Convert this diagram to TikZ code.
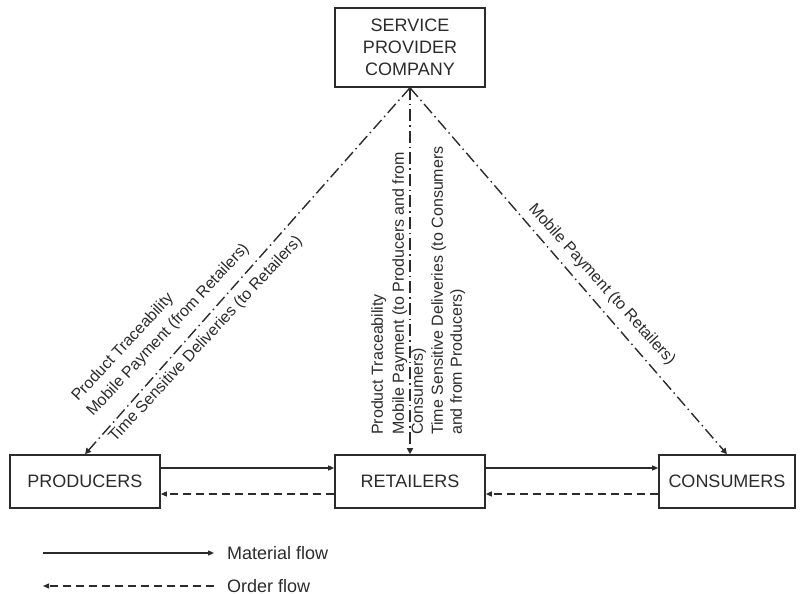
\documentclass[tikz,border=0pt]{standalone}
\usepackage{fontspec}
\setmainfont{Liberation Sans}
\usetikzlibrary{arrows.meta,positioning}

\definecolor{ink}{HTML}{2B2B2B}

\begin{document}
\begin{tikzpicture}[x=1pt, y=-1pt, ink,
  party/.style={draw=ink, line width=1.6pt, font=\fontsize{18}{22}\selectfont,
    align=center, minimum height=53pt, inner sep=0pt},
  lbl/.style={font=\fontsize{16}{19}\selectfont, inner sep=0pt, align=left},
  legtext/.style={font=\fontsize{18}{22}\selectfont, inner ysep=0pt, inner xsep=13pt, anchor=west},
  info/.style={draw=ink, line width=1.4pt, dash pattern=on 12pt off 4pt on 1.5pt off 4pt,
    -{Triangle[length=6pt,width=6pt]}},
  material/.style={draw=ink, line width=1.3pt, -{Triangle[length=6pt,width=5pt]}},
  order/.style={draw=ink, line width=1.3pt, dash pattern=on 8pt off 5pt,
    -{Triangle[length=6pt,width=5pt]}}]
  \useasboundingbox (0,0) rectangle (804,594);

  \node[party, minimum width=150pt, minimum height=79pt] (spc) at (410,47.5) {SERVICE\\PROVIDER\\COMPANY};
  \node[party, minimum width=150pt] (prod) at (85,481.5)  {PRODUCERS};
  \node[party, minimum width=150pt] (ret)  at (410,481.5) {RETAILERS};
  \node[party, minimum width=136pt] (cons) at (727,481.5) {CONSUMERS};

  % information flows from the service provider
  \draw[info] (spc.south) -- (prod.north);
  \draw[info] (spc.south) -- (ret.north);
  \draw[info] (spc.south) -- (cons.north);

  \node[lbl, rotate=47, anchor=base west] (lp1) at (78,402)  {Product Traceability};
  \node[lbl, rotate=47, anchor=base west] (lp2) at (93,417)  {Mobile Payment (from Retailers)};
  \node[lbl, rotate=47, anchor=base west] (lp3) at (115,443) {Time Sensitive Deliveries (to Retailers)};

  \node[lbl, rotate=90, anchor=north west] (mp1) at (371,435) {Product Traceability};
  \node[lbl, rotate=90, anchor=north west] (mp2) at (392,435) {Mobile Payment (to Producers and from\\Consumers)};
  \node[lbl, rotate=90, anchor=north west] (mp3) at (431,435) {Time Sensitive Deliveries (to Consumers\\and from Producers)};

  \node[lbl, rotate=-48, anchor=base west] (rp1) at (528,209) {Mobile Payment (to Retailers)};

  % material and order flows
  \draw[material] ([yshift=13.5pt]prod.east) -- ([yshift=13.5pt]ret.west);
  \draw[order]    ([yshift=-12.5pt]ret.west) -- ([yshift=-12.5pt]prod.east);
  \draw[material] ([yshift=13.5pt]ret.east)  -- ([yshift=13.5pt]cons.west);
  \draw[order]    ([yshift=-12.5pt]cons.west) -- ([yshift=-12.5pt]ret.east);

  % legend
  \coordinate (mat0) at (43,553);
  \coordinate (ord0) at (43,586);
  \node[legtext] (mat) at (214,553) {Material flow};
  \node[legtext] (ord) at (214,586) {Order flow};
  \draw[material] (mat0) -- (mat.west);
  \draw[order]    (ord.west) -- (ord0);
\end{tikzpicture}
\end{document}
